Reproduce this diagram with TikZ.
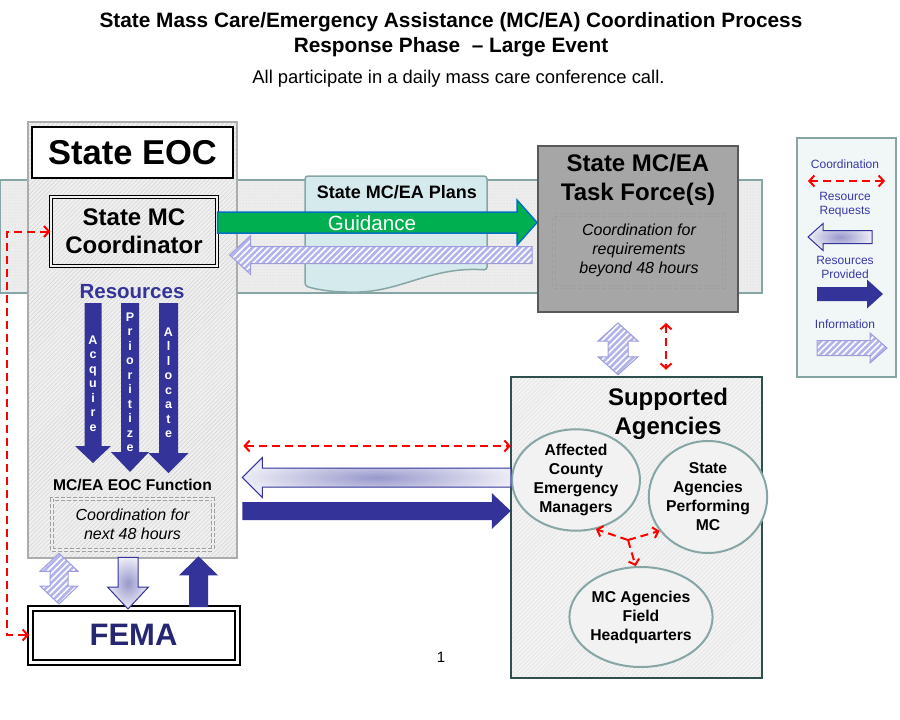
\documentclass[tikz,border=0pt]{standalone}
\usepackage{fontspec}
\setmainfont{Liberation Sans}
\usetikzlibrary{positioning,shapes.geometric,arrows.meta,calc,patterns.meta}

\definecolor{dblue}{HTML}{333399}
\definecolor{femablue}{HTML}{262673}
\definecolor{infofill}{HTML}{B3B3EC}
\definecolor{infoedge}{HTML}{9C9CDE}
\definecolor{reqin}{HTML}{9898CC}
\definecolor{reqout}{HTML}{ECECF6}
\definecolor{ggreen}{HTML}{00B050}
\definecolor{gblue}{HTML}{0070C0}
\definecolor{tfgray}{HTML}{A6A6A6}
\definecolor{tfedge}{HTML}{595959}
\definecolor{tealedge}{HTML}{86A6A6}
\definecolor{darkteal}{HTML}{2F4F4F}
\definecolor{plansfill}{HTML}{D5EAED}
\definecolor{legfill}{HTML}{F1F7F7}
\definecolor{legtext}{HTML}{3838A8}

% block arrows drawn as a "to" path: shaft half width, head half width, head length
\tikzset{
  block/.style n args={3}{to path={let \p1=(\tikztostart), \p2=(\tikztotarget),
      \n1={atan2(\y2-\y1,\x2-\x1)}, \n2={veclen(\x2-\x1,\y2-\y1)} in
      ($(\p1)+(\n1+90:#1)$) -- ++(\n1:{\n2-#3}) -- ++(\n1+90:{#2-#1}) -- (\p2)
      -- ($(\p2)+(\n1+180:#3)+(\n1-90:#2)$) -- ++(\n1+90:{#2-#1})
      -- ($(\p1)+(\n1-90:#1)$) -- cycle}},
  dblock/.style n args={3}{to path={let \p1=(\tikztostart), \p2=(\tikztotarget),
      \n1={atan2(\y2-\y1,\x2-\x1)} in
      (\p1) -- ($(\p1)+(\n1:#3)+(\n1+90:#2)$) -- ++(\n1-90:{#2-#1})
      -- ($(\p2)+(\n1+180:#3)+(\n1+90:#1)$) -- ++(\n1+90:{#2-#1}) -- (\p2)
      -- ($(\p2)+(\n1+180:#3)+(\n1-90:#2)$) -- ++(\n1+90:{#2-#1})
      -- ($(\p1)+(\n1:#3)+(\n1-90:#1)$) -- ++(\n1-90:{#2-#1}) -- cycle}}
}

\begin{document}
\begin{tikzpicture}[x=1pt, y=-1pt, >=Latex,
  coordln/.style={red, line width=2pt, dash pattern=on 8pt off 5pt,
    >={Straight Barb[length=5pt,width=11pt]}},
  provided/.style={fill=dblue},
  requests/.style={draw=dblue, line width=1pt, inner color=reqin, outer color=reqout},
  info/.style={draw=infoedge, line width=1pt, preaction={fill=infofill},
    pattern={Lines[angle=45,distance=4.5pt,line width=1.6pt]}, pattern color=white},
  guide/.style={draw=gblue, line width=1.5pt, fill=ggreen},
  bold/.style 2 args={font=\fontsize{#1}{#2}\selectfont\bfseries, align=center},
  note/.style={draw=gray!75, double=#1, double distance=1.3pt, line width=0.9pt,
    dash pattern=on 4pt off 2pt, inner sep=0pt, align=center,
    font=\fontsize{16}{19}\selectfont\itshape},
  vword/.style={text=white, align=center, font=\fontsize{12.5}{14.5}\selectfont\bfseries},
  agency/.style={draw=tealedge, line width=2pt, ellipse, fill=black!5, inner sep=0pt,
    align=center, font=\fontsize{15.7}{19}\selectfont\bfseries},
  legtxt/.style={text=legtext, align=center, font=\fontsize{12}{14}\selectfont}]

  \useasboundingbox (0,0) rectangle (900,720);

  % heading
  \node[bold={20.8}{25}] (Title) at (451,34.5) {State Mass Care/Emergency Assistance (MC/EA) Coordination Process\\Response Phase \ -- Large Event};
  \node[font=\fontsize{18.4}{21}\selectfont] (Sub) at (458.5,79) {All participate in a daily mass care conference call.};

  % band behind the state level
  \node[draw=tealedge, line width=1.5pt, preaction={fill=black!7},
    pattern={Dots[distance=3pt,radius=0.5pt]}, pattern color=black!16,
    minimum width=762pt, minimum height=113pt, inner sep=0pt] (Band) at (381,236.5) {};

  % State EOC
  \node[draw=gray!65, line width=1.5pt, preaction={fill=black!6},
    pattern={Lines[angle=45,distance=3pt,line width=0.6pt]}, pattern color=black!16,
    minimum width=209pt, minimum height=436pt, inner sep=0pt] (EOC) at (132.5,340) {};
  \node[draw, line width=2pt, fill=white, minimum width=201pt, minimum height=51pt,
    bold={34.5}{40}] (EOCTitle) at (132.5,152.5) {State EOC};
  \node[draw, double=black!6, double distance=2pt, line width=1.3pt,
    minimum width=166pt, minimum height=69pt, bold={24}{28}] (Coord) at (134,231.5) {State MC\\Coordinator};
  \node[bold={20.5}{24}, text=dblue] (Res) at (132,292) {Resources};
  \node[bold={15.6}{18}] (Fn) at (132.5,485) {MC/EA EOC Function};
  \node[note=black!6, minimum width=161pt, minimum height=51pt] (FnNote) at (132.5,524.5) {Coordination for\\next 48 hours};

  \fill[provided, block={8.5pt}{18pt}{17pt}] ([shift={(-39pt,-11pt)}]Res.center) to ([shift={(-39.5pt,22pt)}]Fn.center);
  \fill[provided, block={9pt}{19pt}{20pt}] ([shift={(-2pt,-11pt)}]Res.center) to ([shift={(-2.5pt,13pt)}]Fn.center);
  \fill[provided, block={9.5pt}{20pt}{20pt}] ([shift={(36.5pt,-11pt)}]Res.center) to ([shift={(36pt,12pt)}]Fn.center);
  \node[vword] (Acq) at (93,383.5) {A\\c\\q\\u\\i\\r\\e};
  \node[vword] (Prio) at (130,382.5) {P\\r\\i\\o\\r\\i\\t\\i\\z\\e};
  \node[vword] (Alloc) at (168.5,383) {A\\l\\l\\o\\c\\a\\t\\e};

  % plans and guidance
  \draw[draw=tealedge, line width=1.5pt, fill=plansfill, rounded corners=3pt]
    (305,176) -- (487,176) -- (487,270) .. controls (430,266) and (400,293) .. (350,292)
    .. controls (330,292) and (315,289) .. (305,286) -- cycle;
  \node[bold={18}{20}] (Plans) at (397,192) {State MC/EA Plans};

  % task force
  \node[draw=tfedge, line width=2pt, fill=tfgray, minimum width=200pt, minimum height=166pt,
    inner sep=0pt] (TaskForce) at (638,229) {};
  \node[bold={24}{29}, below=6pt of TaskForce.north] (TFTitle) {State MC/EA\\Task Force(s)};
  \node[note=tfgray, minimum width=170pt, minimum height=72pt, text depth=4pt] (TFNote) at (639,251) {Coordination for\\requirements\\beyond 48 hours};

  \draw[guide, block={10.5pt}{22.5pt}{20pt}] ([yshift=9pt]Coord.east) to ([yshift=6.5pt]TaskForce.west);
  \node[font=\fontsize{20.6}{22}\selectfont, text=white] (GuideTxt) at (372,223) {Guidance};
  \draw[info, block={8.5pt}{19.5pt}{21pt}] ([shift={(-5pt,-26pt)}]TaskForce.west) to ([shift={(12pt,-23.5pt)}]Coord.east);

  % supported agencies
  \node[draw=darkteal, line width=2.5pt, preaction={fill=black!8},
    pattern={Lines[angle=45,distance=3pt,line width=0.5pt]}, pattern color=white,
    minimum width=251pt, minimum height=301pt, inner sep=0pt] (Supported) at (636.5,527.5) {};
  \node[bold={24}{29}] (SupTitle) at (668,414) {Supported\\Agencies};
  \node[agency, minimum width=128pt, minimum height=94pt] (County) at (576,480) {Affected\\County\\Emergency\\Managers};
  \node[agency, minimum width=96pt, minimum height=112pt] (StateAg) at (708,497) {State\\Agencies\\Performing\\MC};
  \node[agency, minimum width=124pt, minimum height=100pt] (FieldHQ) at (641,617) {MC Agencies\\Field\\Headquarters};
  \coordinate (Meet) at (628,540);
  \draw[coordln,->] (Meet) -- (County.-68);
  \draw[coordln,->] (Meet) -- (StateAg.215);
  \draw[coordln,->] (Meet) -- (FieldHQ.96);

  % links between levels
  \draw[coordln,<->] ([shift={(6pt,-106pt)}]EOC.east) -- ([yshift=81.5pt]Supported.west);
  \draw[requests, block={9.5pt}{20pt}{20pt}] ([yshift=50pt]Supported.west) to ([shift={(5pt,-137.5pt)}]EOC.east);
  \fill[provided, block={9pt}{18pt}{19pt}] ([shift={(5pt,-171pt)}]EOC.east) to ([yshift=16.5pt]Supported.west);

  \draw[info, dblock={10pt}{20pt}{18pt}] ([shift={(-20pt,-10pt)}]TaskForce.south) to ([shift={(-18.5pt,2pt)}]Supported.north);
  \draw[coordln,<->] ([shift={(28pt,-10pt)}]TaskForce.south) -- ([shift={(29.5pt,7pt)}]Supported.north);

  % FEMA
  \node[draw, double=white, double distance=3pt, line width=2pt, fill=white,
    minimum width=207pt, minimum height=54pt, bold={31}{36}, text=femablue] (FEMA) at (133.5,635) {FEMA};
  \draw[info, dblock={9pt}{19pt}{18pt}] ([shift={(-73.5pt,5pt)}]EOC.south) to ([shift={(-74.5pt,3pt)}]FEMA.north);
  \draw[requests, block={10pt}{20.5pt}{22pt}] ([shift={(-4.5pt,1pt)}]EOC.south) to ([shift={(-5.5pt,-2pt)}]FEMA.north);
  \fill[provided, block={9.5pt}{19.5pt}{19pt}] ([xshift=65pt]FEMA.north) to ([shift={(66pt,2pt)}]EOC.south);
  \draw[coordln,<->] (Coord.west) -| ([xshift=-22pt]FEMA.west) -- (FEMA.west);

  % legend
  \node[draw=tealedge, line width=2pt, fill=legfill, minimum width=99pt, minimum height=239pt,
    inner sep=0pt] (Legend) at (846.5,257.5) {};
  \node[legtxt] (LgCoord) at (845,164) {Coordination};
  \draw[coordln,<->] ([shift={(-37pt,-17pt)}]LgCoord.center) -- ([shift={(40pt,-17pt)}]LgCoord.center);
  \node[legtxt] (LgReq) at (845,205) {Resource\\Requests};
  \draw[requests, block={6.5pt}{13.5pt}{15pt}] ([shift={(27pt,-32pt)}]LgReq.center) to ([shift={(-37pt,-32pt)}]LgReq.center);
  \node[legtxt] (LgProv) at (845,267) {Resources\\Provided};
  \fill[provided, block={7pt}{14.5pt}{16pt}] ([shift={(-28pt,-27pt)}]LgProv.center) to ([shift={(38pt,-27pt)}]LgProv.center);
  \node[legtxt] (LgInfo) at (845,324) {Information};
  \draw[info, block={7.5pt}{15pt}{17pt}] ([shift={(-28pt,-24pt)}]LgInfo.center) to ([shift={(42pt,-24pt)}]LgInfo.center);

  \node[font=\fontsize{15}{18}\selectfont] (PageNo) at (441,657) {1};
\end{tikzpicture}
\end{document}
